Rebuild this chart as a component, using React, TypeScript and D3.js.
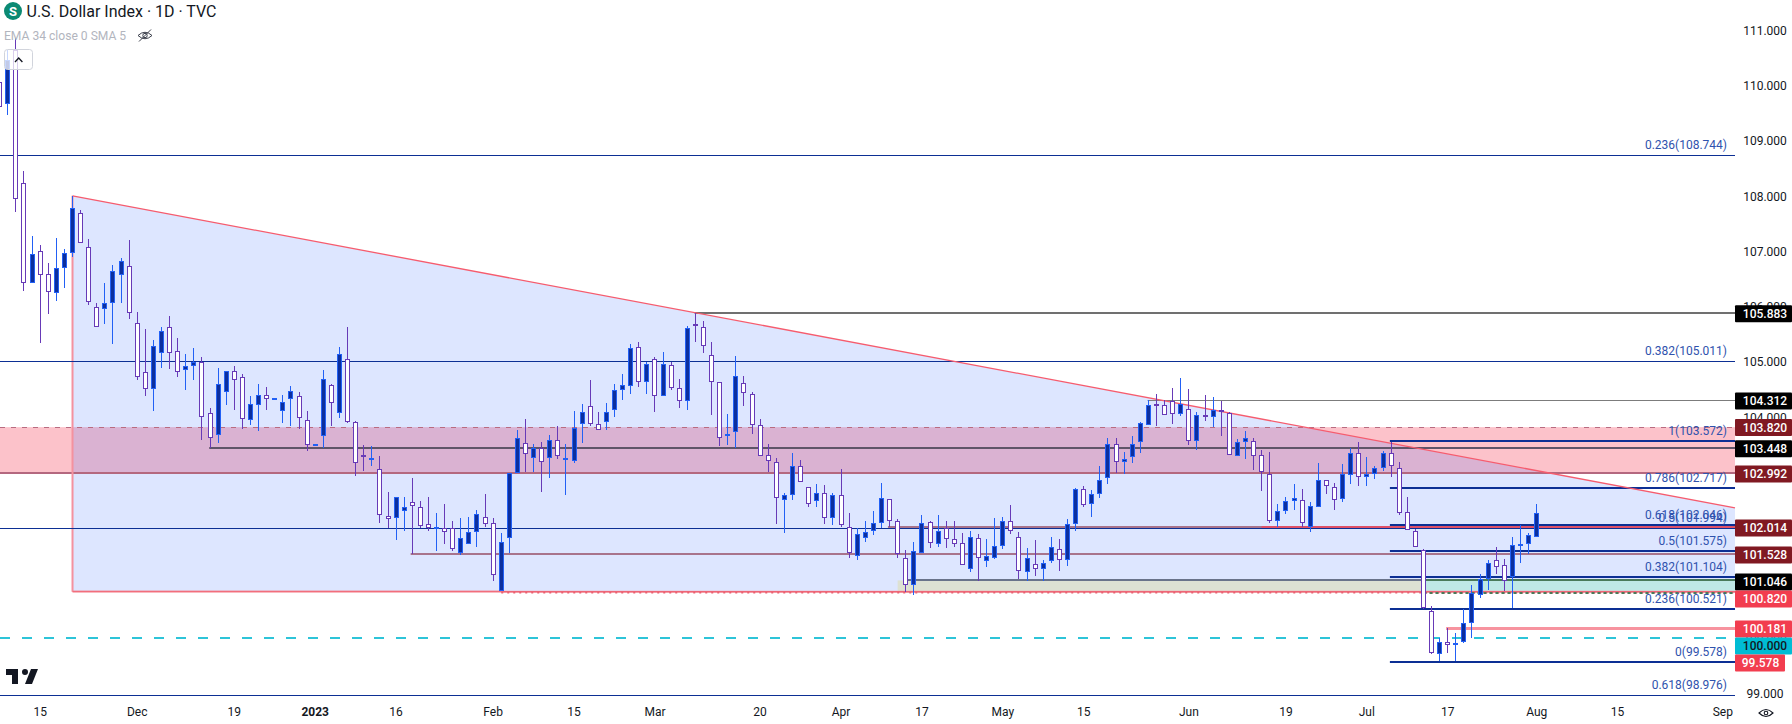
import React from "react";
import * as d3 from "d3";

// ---------- Data: daily candles of the U.S. Dollar Index (one entry per bar) ----------
const highs = [
  110.20,110.65,110.87,108.46,107.28,107.12,106.79,107.25,107.05,108.01,
  107.75,107.23,106.07,106.43,106.76,106.88,107.21,105.90,105.60,105.40,
  105.63,105.83,105.43,105.14,105.25,105.09,104.16,104.89,104.83,104.93,
  104.78,104.38,104.60,104.54,104.33,104.40,104.56,104.45,104.11,103.50,
  104.85,104.60,105.27,105.63,103.93,103.49,103.48,103.29,102.64,102.55,
  102.55,102.90,102.48,102.55,102.26,102.42,102.12,102.17,102.19,102.32,
  102.61,102.17,101.90,102.99,103.77,103.97,103.51,103.55,103.67,103.84,
  103.51,104.11,104.24,104.67,104.09,104.25,104.60,104.78,105.32,105.36,
  105.00,105.09,105.18,105.00,104.69,105.65,105.88,105.74,105.36,104.64,
  104.06,105.11,104.74,104.45,103.97,103.51,103.26,102.62,103.35,103.22,
  102.73,102.79,102.77,102.62,103.06,102.26,101.99,102.13,102.30,102.81,
  102.52,102.15,101.59,101.74,102.23,102.13,102.23,102.12,102.12,101.90,
  101.94,101.88,101.79,102.17,102.19,102.41,101.92,101.63,101.77,101.41,
  101.83,101.79,102.15,102.71,102.75,102.68,103.11,103.62,103.62,103.37,
  103.66,103.91,104.31,104.42,104.31,104.53,104.71,104.51,104.09,104.40,
  104.36,104.29,104.09,103.60,103.75,103.62,103.40,103.37,102.42,102.55,
  102.79,102.70,102.46,103.17,102.86,102.81,103.15,103.44,103.55,103.28,
  103.11,103.39,103.55,103.19,102.55,101.97,101.61,100.59,100.00,100.18,
  100.09,100.52,100.96,101.17,101.41,101.65,101.43,101.83,102.04,101.90,102.42,
];
const bodyHighs = [
  110.07,110.47,110.65,108.24,106.95,107.01,106.59,106.70,106.97,107.79,
  107.70,107.08,105.99,106.07,106.65,106.83,106.74,105.70,104.82,105.29,
  105.56,105.63,105.20,104.93,105.00,105.00,104.07,104.60,104.83,104.83,
  104.73,104.24,104.40,104.40,104.33,104.27,104.47,104.38,103.95,103.50,
  104.69,104.58,105.14,105.05,103.91,103.29,103.26,103.06,102.21,102.55,
  102.37,102.46,102.37,102.06,102.00,101.99,101.99,101.81,101.92,102.24,
  102.19,102.08,101.74,102.99,103.62,103.53,103.44,103.44,103.58,103.58,
  103.26,103.80,104.09,104.20,103.87,104.09,104.49,104.58,105.25,105.27,
  104.96,105.05,104.96,104.94,104.53,105.61,105.67,105.63,105.12,104.64,
  103.67,104.74,104.62,104.42,103.86,103.31,103.19,102.59,103.11,103.11,
  102.73,102.62,102.62,102.59,102.59,102.01,101.88,101.92,102.08,102.53,
  102.52,102.12,101.46,101.57,102.08,102.10,101.94,101.99,101.79,101.72,
  101.84,101.81,101.48,101.66,102.12,102.12,101.84,101.45,101.34,101.37,
  101.65,101.61,102.06,102.70,102.70,102.61,102.86,103.51,103.51,103.24,
  103.51,103.89,104.22,104.22,104.22,104.29,104.24,104.15,104.04,104.04,
  104.13,104.12,104.07,103.55,103.62,103.57,103.31,102.97,102.30,102.48,
  102.53,102.50,102.39,102.86,102.86,102.73,102.97,103.35,103.35,102.97,
  103.08,103.35,103.35,103.08,102.28,101.94,101.59,100.50,99.94,99.94,
  99.91,100.27,100.81,101.08,101.37,101.41,101.32,101.68,101.69,101.86,102.26,
];
const bodyLows = [
  109.62,109.67,107.95,106.43,106.43,106.57,106.27,106.25,106.70,106.97,
  107.15,106.09,105.63,105.96,106.07,106.57,105.89,104.73,104.51,104.51,
  105.16,105.16,104.82,104.85,104.93,104.00,103.62,103.67,104.45,104.67,
  103.97,103.95,104.22,104.33,104.31,104.11,104.33,103.98,103.49,103.49,
  103.66,104.25,104.07,103.91,103.17,103.28,103.22,102.23,102.15,102.17,
  102.30,102.39,102.03,101.99,101.99,101.92,101.61,101.55,101.70,101.92,
  102.06,101.14,100.85,101.81,102.99,103.33,103.26,103.19,103.26,103.29,
  103.22,103.20,103.87,103.87,103.77,103.91,104.13,104.49,104.56,104.64,
  104.64,104.38,104.38,104.53,104.29,104.29,105.66,105.29,104.64,103.62,
  103.66,103.73,104.44,103.86,103.29,103.20,102.53,102.50,102.59,102.82,
  102.42,102.48,102.17,102.17,102.04,101.55,101.48,101.81,101.94,102.08,
  102.12,101.52,100.97,100.97,101.55,101.72,101.70,101.79,101.70,101.32,
  101.25,101.45,101.39,101.46,101.66,101.94,101.21,101.19,101.26,101.26,
  101.39,101.41,101.41,102.06,102.41,102.42,102.61,102.90,103.19,103.19,
  103.28,103.55,103.86,104.21,104.04,104.06,104.06,103.57,103.57,104.00,
  104.00,104.11,103.31,103.29,103.55,103.29,103.00,102.12,102.12,102.30,
  102.48,102.08,102.01,102.37,102.75,102.50,102.52,102.95,102.91,102.91,
  102.97,103.08,103.11,102.26,101.95,101.65,100.54,99.74,99.72,99.87,
  99.87,99.94,100.27,100.78,101.08,101.28,101.03,101.10,101.67,101.70,101.84,
];
const lows = [
  109.53,109.47,107.72,106.28,106.43,105.34,105.87,106.10,106.34,106.90,
  107.15,106.03,105.63,105.69,105.32,106.07,105.78,104.67,104.38,104.11,
  104.89,104.87,104.73,104.49,104.67,103.58,103.44,103.53,104.22,104.13,
  103.78,103.86,103.75,104.13,104.31,103.89,103.84,103.78,103.39,103.49,
  103.44,103.84,103.98,103.89,102.93,103.02,103.11,102.08,101.99,101.77,
  101.94,101.52,101.99,101.94,101.57,101.70,101.57,101.50,101.70,101.65,
  102.01,101.03,100.85,101.54,102.99,103.00,103.00,102.64,102.90,103.24,
  102.59,103.17,103.53,103.84,103.77,103.77,104.00,104.31,104.42,104.54,
  104.42,104.09,104.38,104.49,104.16,104.13,105.36,105.16,104.04,103.48,
  103.49,103.44,104.20,103.69,103.29,103.00,102.06,101.90,102.50,102.82,
  102.37,102.37,102.06,102.04,102.01,101.45,101.41,101.75,101.86,101.99,
  102.01,101.45,100.83,100.78,101.54,101.63,101.65,101.63,101.65,101.32,
  101.19,101.03,101.28,101.43,101.61,101.88,101.07,101.03,101.12,101.03,
  101.36,101.21,101.30,101.94,102.37,102.19,102.53,102.79,102.99,102.97,
  103.17,103.35,103.86,103.84,104.04,103.87,104.02,103.49,103.40,103.93,
  103.82,103.66,103.31,103.29,103.24,103.04,102.66,102.08,102.01,102.24,
  102.32,102.01,101.92,102.37,102.61,102.32,102.46,102.79,102.75,102.75,
  102.88,103.02,102.91,102.23,101.95,101.65,100.52,99.72,99.58,99.74,
  99.58,99.91,100.01,100.72,100.88,101.17,100.85,100.54,101.36,101.52,101.84,
];
// Bars that closed higher than they opened.
const risingBars = [
  1,4,7,8,9,13,14,15,19,20,23,24,27,28,31,32,34,35,36,39,40,42,46,49,50,54,57,58,59,62,63,64,66,68,70,71,72,
  75,76,77,78,80,82,85,90,91,97,98,101,103,106,107,108,109,113,114,116,120,122,123,124,127,129,130,132,133,
  135,136,137,139,140,141,142,146,148,150,153,154,158,159,160,162,163,166,167,169,170,171,178,180,181,182,
  183,184,187,188,189,190,
];

// ---------- Axis ----------
const priceTicks = [111, 110, 109, 108, 107, 106, 105, 104, 103, 102, 101, 100, 99];
const timeTickBars = [5, 17, 29, 39, 49, 61, 71, 81, 94, 104, 114, 124, 134, 147, 159, 169, 179, 190, 200, 213];
const timeTickLabels = ["15","Dec","19","2023","16","Feb","15","Mar","20","Apr","17","May","15","Jun","19","Jul","17","Aug","15","Sep"];

// ---------- Drawing levels ----------
const zoneTop = 103.82;
const zoneBottom = 102.992;
const trendStartBar = 9;
const trendStartPrice = 108.006;
const trendEndPrice = 102.359;
const triangleBasePrice = 100.84;
const wedgeDottedBar = 62;
const longFibLevels = [108.744, 105.011, 101.994, 98.976];
const longFibLabels = ["0.236(108.744)", "0.382(105.011)", "0.5(101.994)", "0.618(98.976)"];
const shortFibLevels = [103.572, 102.717, 102.046, 101.575, 101.104, 100.521, 99.578];
const shortFibLabels = ["1(103.572)", "0.786(102.717)", "0.618(102.046)", "0.5(101.575)", "0.382(101.104)", "0.236(100.521)", "0(99.578)"];
const shortFibStartBar = 171.85;
const greyPrices = [105.883, 104.312, 103.448];
const greyStartBars = [85.9, 141.9, 25.9];
const greyWidths = [2, 1, 2];
const greyColors = ["#707070", "#7c7c7c", "#5f5468"];
const mauvePrices = [102.014, 101.528];
const mauveStartBars = [109.8, 50.8];
const redOverlayStartBar = 156;
const supportTop = 101.046;
const supportBottom = 100.82;
const supportStartBar = 111;
const supportLineBar = 112;
const supportSwitchBar = 176;
const salmonPrice = 100.181;
const salmonStartBar = 178.8;
const roundPrice = 100;
const lowPrice = 99.578;
const lowStartBar = 177.8;
const tagPrices = ["105.883","104.312","103.820","103.448","102.992","102.014","101.528","101.046","100.820","100.181","100.000","99.578"];
const tagCenters = [313.7, 401, 427.5, 448.7, 473.9, 528, 555, 582, 599, 629, 646, 663];
const tagFills = ["#000","#000","#801922","#000","#801922","#801922","#801922","#000","#f23d4f","#f23d4f","#00bcd4","#f23d4f"];

const WIDTH = 1792;
const HEIGHT = 724;
const PLOT_RIGHT = 1735;
const UP_FILL = "#0c2f9e";
const UP_LINE = "#2260f5";
const DOWN_LINE = "#673ab7";
const FIB_BLUE = "#0c2f94";
const FONT = "Roboto, 'Noto Sans', sans-serif";

const x = d3.scaleLinear().domain([0, 190]).range([-0.29, 1536.715]);
const y = d3.scaleLinear().domain([108.744, 98.976]).range([155.1, 694.78]);
const sy = (p: number) => Math.round(y(p));
const fmt = d3.format(".3f");

function HLine({ price, from, to = PLOT_RIGHT, color, width = 1, dash }: { price: number; from: number; to?: number; color: string; width?: number; dash?: string }) {
  const py = Math.round(y(price)) + (width % 2 === 1 ? 0.5 : 0);
  return <line x1={from} x2={to} y1={py} y2={py} stroke={color} strokeWidth={width} strokeDasharray={dash} />;
}

function Candle({ i }: { i: number }) {
  const px = Math.floor(x(i));
  const up = risingBars.includes(i);
  const line = up ? UP_LINE : DOWN_LINE;
  const t = sy(bodyHighs[i]);
  const b = sy(bodyLows[i]);
  const doji = b - t <= 1;
  return (
    <g>
      <line x1={px + 0.5} x2={px + 0.5} y1={sy(highs[i])} y2={sy(lows[i])} stroke={line} strokeWidth={1} />
      {doji ? (
        <rect x={px - 2} y={t - 1} width={5} height={2} fill={line} />
      ) : (
        <rect x={px - 1.5} y={t + 0.5} width={4} height={b - t - 1} fill={up ? UP_FILL : "#fff"} stroke={line} strokeWidth={1} />
      )}
    </g>
  );
}

export default function App() {
  const xStart = x(trendStartBar);
  const yStart = y(trendStartPrice);
  const yEnd = y(trendEndPrice);
  const yBase = y(triangleBasePrice);
  const polygon = d3.line()([[xStart, yStart], [PLOT_RIGHT, yEnd], [PLOT_RIGHT, yBase], [xStart, yBase]]) + "Z";
  const fibs = [
    ...longFibLabels.map((t, i) => ({ t, p: longFibLevels[i] })),
    ...shortFibLabels.map((t, i) => ({ t, p: shortFibLevels[i] })),
  ];
  return (
    <svg width={WIDTH} height={HEIGHT} style={{ position: "fixed", left: 0, top: 0, background: "#fff", fontFamily: FONT }}>
      {/* resistance zone */}
      <rect x={0} y={y(zoneTop)} width={PLOT_RIGHT} height={y(zoneBottom) - y(zoneTop)} fill="#fcc2ca" />
      {/* wedge */}
      <path d={polygon} fill="rgba(41,98,255,0.16)" />
      <HLine price={zoneTop} from={0} color="#b96b80" width={1} dash="5 6" />
      <HLine price={zoneBottom} from={0} color="#b4687f" width={2} />
      {/* support block */}
      <rect x={x(supportStartBar)} y={y(supportTop)} width={x(supportSwitchBar) - x(supportStartBar)} height={y(supportBottom) - y(supportTop)} fill="#dde1d3" />
      <rect x={x(supportSwitchBar)} y={y(supportTop)} width={PLOT_RIGHT - x(supportSwitchBar)} height={y(supportBottom) - y(supportTop)} fill="#bfe8e6" />
      {/* wedge outline */}
      <line x1={xStart} x2={xStart} y1={yStart} y2={yBase} stroke="#f4929f" strokeWidth={2} />
      <line x1={xStart} x2={PLOT_RIGHT} y1={yBase} y2={yBase} stroke="#f7a3ad" strokeWidth={2} />
      <line x1={xStart} x2={x(wedgeDottedBar)} y1={yBase - 0.5} y2={yBase - 0.5} stroke="#f0606f" strokeWidth={1} />
      <line x1={x(wedgeDottedBar)} x2={PLOT_RIGHT} y1={yBase} y2={yBase} stroke="#ea4e60" strokeWidth={1} />
      <line x1={x(wedgeDottedBar)} x2={PLOT_RIGHT} y1={yBase + 1} y2={yBase + 1} stroke="#ea6072" strokeWidth={1.4} strokeDasharray="2 4" />
      <HLine price={supportBottom} from={x(supportSwitchBar)} color="#4a7a5a" width={2} dash="3 3" />
      {/* long fib */}
      {longFibLevels.map((p) => <HLine key={p} price={p} from={0} color={FIB_BLUE} width={1} />)}
      {/* horizontal levels */}
      {greyPrices.map((p, i) => (
        <HLine key={p} price={p} from={x(greyStartBars[i])} color={greyColors[i]} width={greyWidths[i]} />
      ))}
      {mauvePrices.map((p, i) => (
        <HLine key={p} price={p} from={x(mauveStartBars[i])} color="#a8748c" width={2} />
      ))}
      <HLine price={mauvePrices[0]} from={x(redOverlayStartBar)} color="#de5068" width={2} />
      <HLine price={supportTop} from={x(supportLineBar)} to={x(supportSwitchBar)} color="#69738a" width={2} />
      <HLine price={supportTop} from={x(supportSwitchBar)} color="#4a7a5a" width={2} />
      <HLine price={salmonPrice} from={x(salmonStartBar)} color="#f7939f" width={3} />
      <HLine price={roundPrice} from={0} color="#2dc4d8" width={2} dash="10 12" />
      <HLine price={lowPrice} from={x(lowStartBar)} color="#f7a3ad" width={2} />
      {/* short fib */}
      {shortFibLevels.map((p) => <HLine key={p} price={p} from={x(shortFibStartBar)} color={FIB_BLUE} width={2} />)}
      {/* trend line */}
      <line x1={xStart} x2={PLOT_RIGHT} y1={yStart} y2={yEnd} stroke="#f65c6e" strokeWidth={1.3} />
      {/* fib labels */}
      {fibs.map((f) => (
        <text key={f.t} x={1727} y={y(f.p) - 6} textAnchor="end" fontSize={12} fill="#2f52ad">{f.t}</text>
      ))}
      {/* candles */}
      {highs.map((_, i) => <Candle key={i} i={i} />)}

      {/* price axis */}
      {priceTicks.map((p) => (
        <text key={p} x={1765} y={y(p) + 4.5} textAnchor="middle" fontSize={12} fill="#131722">{fmt(p)}</text>
      ))}
      {tagPrices.map((t, i) => {
        const narrow = t === "99.578";
        return (
          <g key={t}>
            <rect x={PLOT_RIGHT} y={tagCenters[i] - 8.5} width={narrow ? 50 : 57} height={17} fill={tagFills[i]} rx={1} />
            <text x={narrow ? 1760.5 : 1765} y={tagCenters[i] + 4.3} textAnchor="middle" fontSize={12} fontWeight={500} fill={t === "100.000" ? "#131722" : "#fff"}>{t}</text>
          </g>
        );
      })}
      {/* time axis */}
      {timeTickBars.map((b, i) => (
        <text key={b} x={x(b)} y={716} textAnchor="middle" fontSize={12} fontWeight={timeTickLabels[i] === "2023" ? 700 : 400} fill="#131722">{timeTickLabels[i]}</text>
      ))}
      <g fill="none" stroke="#131722" strokeWidth={1.1}>
        <path d="M1759 713 Q1766 706 1773 713 Q1766 720 1759 713Z" />
        <circle cx={1766} cy={713} r={1.8} />
      </g>

      {/* legend */}
      <circle cx={13} cy={11} r={9} fill="#0b8a73" />
      <text x={13} y={15.5} textAnchor="middle" fontSize={13} fontWeight={700} fill="#fff">S</text>
      <text x={26.5} y={17} fontSize={16} fill="#131722">U.S. Dollar Index · 1D · TVC</text>
      <text x={4} y={40} fontSize={12.1} fill="#b2b5be">EMA 34 close 0 SMA 5</text>
      <g fill="none" stroke="#3a3e4a" strokeWidth={1}>
        <path d="M138 35.5 Q145 29 152 35.5 Q145 42 138 35.5Z" />
        <circle cx={145} cy={35.5} r={2.2} />
        <line x1={139} x2={151} y1={41.5} y2={29.5} />
      </g>
      <rect x={4.5} y={49.5} width={28} height={20} rx={3} fill="rgba(255,255,255,0.75)" stroke="#d1d4dc" />
      <path d="M15 62 L18.7 58 L22.4 62" fill="none" stroke="#131722" strokeWidth={1.3} />

      {/* TradingView mark */}
      <path transform="translate(4 663)" fill="#131722" d="M14 6H2v6h6v9h6V6zm14 15h-7l6-15h7l-6 15zm-7-9a3 3 0 1 0 0-6 3 3 0 0 0 0 6z" />
    </svg>
  );
}
